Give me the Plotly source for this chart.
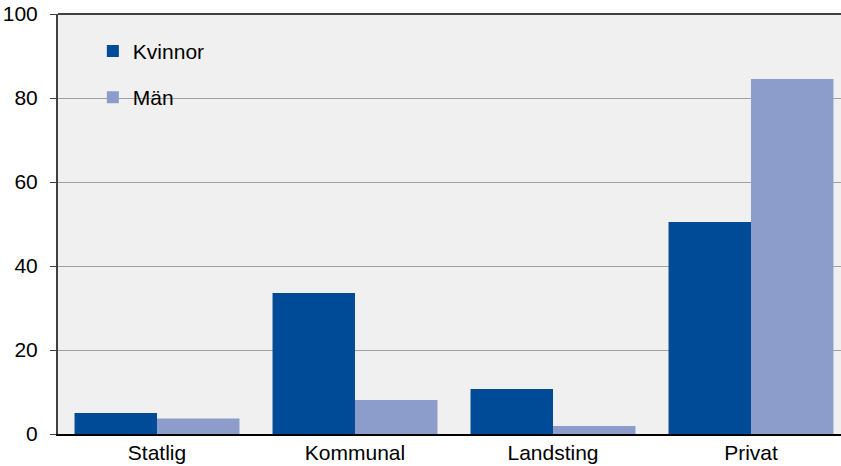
import plotly.graph_objects as go

categories = ["Statlig", "Kommunal", "Landsting", "Privat"]
kvinnor = [5.0, 33.6, 10.7, 50.5]
man = [3.7, 8.1, 1.9, 84.5]
y_ticks = [0, 20, 40, 60, 80, 100]

font = dict(family="Liberation Sans, Arial, sans-serif", size=21, color="#000000")

fig = go.Figure()
fig.add_trace(go.Bar(name="Kvinnor", x=categories, y=kvinnor, marker=dict(color="#004b98", line=dict(width=0)),
                     legendgroup="a"))
fig.add_trace(go.Bar(name="Män", x=categories, y=man, marker=dict(color="#8d9dcb", line=dict(width=0)),
                     legendgroup="b"))

fig.update_layout(
    width=850, height=466,
    margin=dict(l=58, r=0, t=14, b=32),
    paper_bgcolor="#ffffff", plot_bgcolor="#f0f0f0",
    font=font,
    barmode="group", bargap=0.167, bargroupgap=0,
    showlegend=True,
    legend=dict(x=0.044, y=0.96, xanchor="left", yanchor="top", bgcolor="rgba(0,0,0,0)",
                traceorder="grouped", tracegroupgap=16, font=font, itemwidth=30),
    shapes=[
        dict(type="rect", xref="paper", yref="paper", x0=0.02, x1=0.234, y0=0.7, y1=0.97,
             fillcolor="#f0f0f0", line=dict(width=0), layer="between"),
        dict(type="line", xref="paper", yref="paper", x0=0, x1=1, y0=1, y1=1,
             line=dict(color="#404040", width=2)),
    ],
)
fig.update_xaxes(showline=True, linecolor="#000000", linewidth=1.5, ticks="", showgrid=False,
                 ticklabelstandoff=-1, tickfont=font)
fig.update_yaxes(range=[0, 100], tickvals=y_ticks, showgrid=True, gridcolor="#a0a0a0", gridwidth=1,
                 showline=True, linecolor="#404040", linewidth=2, ticks="outside", ticklen=6,
                 tickcolor="#404040", ticklabelstandoff=8, tickfont=font, zeroline=False)

fig.write_html("out.html", config={"displayModeBar": False},
               post_script="document.body.style.margin='0';document.body.style.overflow='hidden';")
